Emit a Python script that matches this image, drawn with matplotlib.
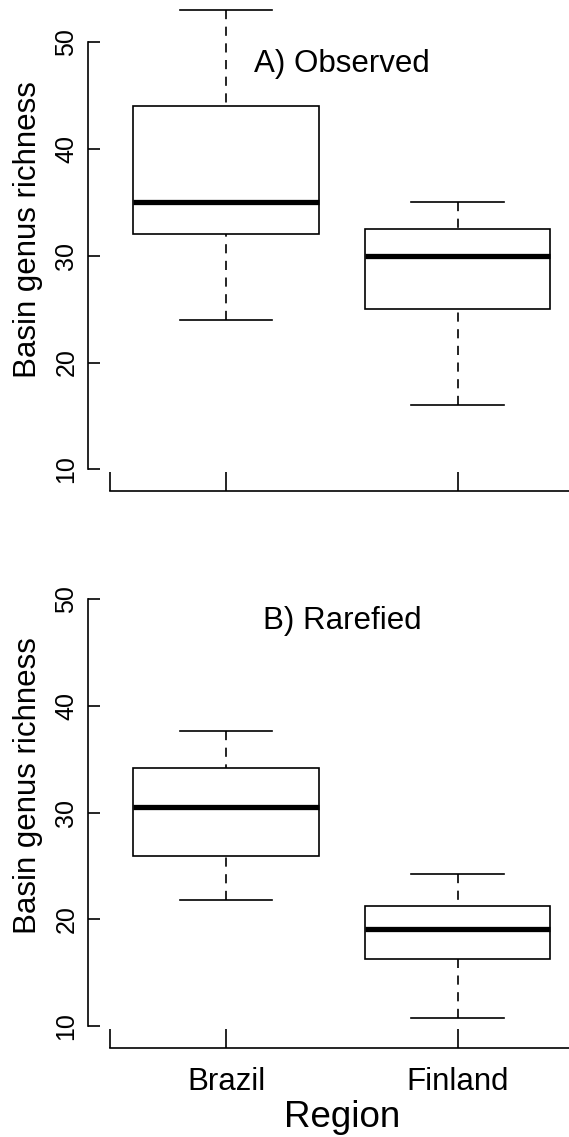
import matplotlib
matplotlib.use("Agg")
import matplotlib.pyplot as plt
import matplotlib.transforms as mtransforms

plt.rcParams['font.family'] = ['Liberation Sans', 'DejaVu Sans']

# ---- data ----
regions = ['Brazil', 'Finland']
positions = [1, 2]

obs_whislo = [24.0, 16.0]
obs_q1 = [32.0, 25.0]
obs_med = [35.0, 30.0]
obs_q3 = [44.0, 32.5]
obs_whishi = [53.0, 35.0]

rar_whislo = [21.8, 10.75]
rar_q1 = [25.9, 16.3]
rar_med = [30.5, 19.1]
rar_q3 = [34.2, 21.2]
rar_whishi = [37.6, 24.2]

y_ticks = [10, 20, 30, 40, 50]
panel_titles = ['A) Observed', 'B) Rarefied']
y_label = 'Basin genus richness'
x_label = 'Region'

W, H = 569, 1137
fig = plt.figure(figsize=(W / 100, H / 100), dpi=100)

LW = 1.2


def make_stats(lo, q1, med, q3, hi, labels):
    return [dict(whislo=a, q1=b, med=c, q3=d, whishi=e, label=l, fliers=[])
            for a, b, c, d, e, l in zip(lo, q1, med, q3, hi, labels)]


def panel(rect, ylim, stats, title, show_xlabels):
    ax = fig.add_axes(rect)
    bp = ax.bxp(stats, positions=positions, widths=0.8, patch_artist=True,
                showfliers=False, capwidths=0.4,
                boxprops=dict(facecolor='white', edgecolor='black', linewidth=LW),
                medianprops=dict(color='black', linewidth=3.8, solid_capstyle='butt'),
                whiskerprops=dict(color='black', linewidth=LW, linestyle=(0, (5.5, 4.5))),
                capprops=dict(color='black', linewidth=LW))
    # draw whiskers from the cap towards the box, as R does
    for line in bp['whiskers']:
        xd, yd = line.get_data()
        line.set_data(list(xd)[::-1], list(yd)[::-1])
    ax.set_xlim(0.403, 2.480)
    ax.set_ylim(*ylim)
    for s in ['top', 'right']:
        ax.spines[s].set_visible(False)
    ax.spines['left'].set_bounds(10, 50)
    ax.spines['bottom'].set_bounds(0.5, 2.480)
    for s in ['left', 'bottom']:
        ax.spines[s].set_linewidth(LW)
    ax.set_yticks(y_ticks)
    ax.set_yticklabels([str(t) for t in y_ticks], rotation=90, va='center', fontsize=18)
    ax.tick_params(axis='y', direction='in', length=8.4, width=LW, pad=6.8)
    ax.set_xticks([0.5] + positions)
    if show_xlabels:
        ax.set_xticklabels([''] + regions, fontsize=22.5)
    else:
        ax.set_xticklabels(['', '', ''])
    ax.tick_params(axis='x', direction='in', length=13.9, width=LW, pad=14)
    ax.text(1.5, 47.17, title, ha='center', va='baseline', fontsize=22.5)
    tr = mtransforms.blended_transform_factory(fig.transFigure, ax.transData)
    ax.text(36 / W, 32.5, y_label, transform=tr, rotation=90, rotation_mode='anchor',
            ha='center', va='baseline', fontsize=22.5)
    return ax


axA = panel([87.7 / W, (H - 491) / H, (W - 87.7) / W, 491 / H], (7.967, 53.96),
            make_stats(obs_whislo, obs_q1, obs_med, obs_q3, obs_whishi, regions),
            panel_titles[0], False)
axB = panel([87.7 / W, (H - 1047.7) / H, (W - 87.7) / W, (1047.7 - 560) / H], (7.936, 53.687),
            make_stats(rar_whislo, rar_q1, rar_med, rar_q3, rar_whishi, regions),
            panel_titles[1], True)

trx = mtransforms.blended_transform_factory(axB.transData, fig.transFigure)
axB.text(1.5, (H - 1126.7) / H, x_label, transform=trx, ha='center', va='baseline', fontsize=26.5)

fig.savefig('out.png', dpi=100)
